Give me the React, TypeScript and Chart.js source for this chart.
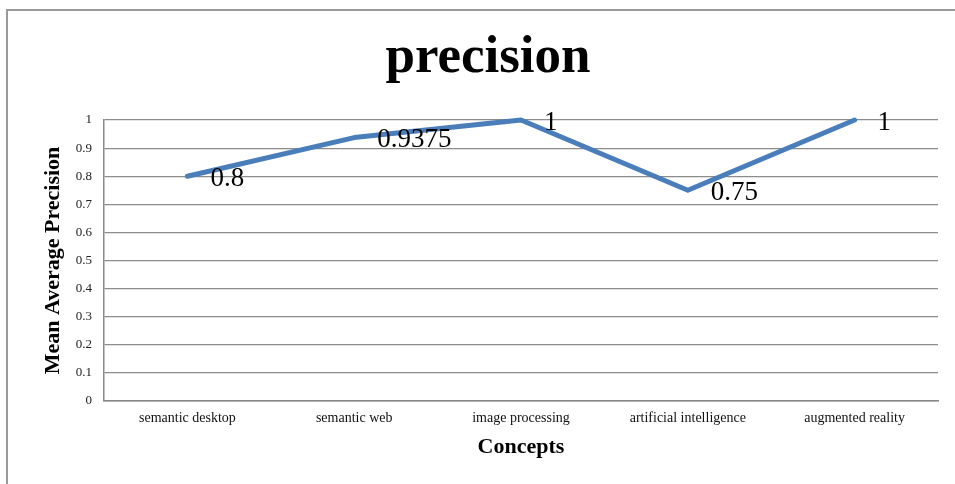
import React, { useEffect, useRef } from "react";
import { Chart, registerables } from "chart.js";

Chart.register(...registerables);

const categories = [
  "semantic desktop",
  "semantic web",
  "image processing",
  "artificial intelligence",
  "augmented reality",
];
const precisionValues = [0.8, 0.9375, 1, 0.75, 1];
const dataLabelTexts = ["0.8", "0.9375", "1", "0.75", "1"];
const yTickLabels = ["0", "0.1", "0.2", "0.3", "0.4", "0.5", "0.6", "0.7", "0.8", "0.9", "1"];

const SERIF = "'Liberation Serif', 'DejaVu Serif', serif";

const dataLabelPlugin = {
  id: "valueLabels",
  afterDatasetsDraw(chart: any) {
    const ctx = chart.ctx;
    const meta = chart.getDatasetMeta(0);
    ctx.save();
    ctx.font = `27px ${SERIF}`;
    ctx.fillStyle = "#000";
    ctx.textAlign = "left";
    ctx.textBaseline = "alphabetic";
    meta.data.forEach((pt: any, i: number) => {
      ctx.fillText(dataLabelTexts[i], pt.x + 23, pt.y + 9.5);
    });
    ctx.restore();
  },
};

export default function App() {
  const canvasRef = useRef<HTMLCanvasElement | null>(null);

  useEffect(() => {
    if (!canvasRef.current) return;
    const chart = new Chart(canvasRef.current, {
      type: "line",
      data: {
        labels: categories,
        datasets: [
          {
            label: "precision",
            data: precisionValues,
            borderColor: "#4a7ebb",
            backgroundColor: "#4a7ebb",
            borderWidth: 5,
            borderCapStyle: "round",
            borderJoinStyle: "round",
            pointRadius: 0,
            pointHoverRadius: 0,
            tension: 0,
            fill: false,
            clip: false,
          } as any,
        ],
      },
      options: {
        animation: false,
        responsive: true,
        maintainAspectRatio: false,
        events: [],
        layout: { padding: { left: 38, right: 17, top: 0, bottom: 0 } },
        plugins: {
          legend: { display: false },
          tooltip: { enabled: false },
          title: {
            display: true,
            text: "precision",
            color: "#000",
            font: { family: SERIF, size: 53, weight: "bold" },
            padding: { top: 27, bottom: 29.4 },
          },
        },
        scales: {
          x: {
            type: "category",
            offset: true,
            grid: { display: false, drawTicks: false },
            border: { display: true, color: "#888", width: 1.5 },
            ticks: {
              color: "#111",
              font: { family: SERIF, size: 14 },
              padding: 9,
              maxRotation: 0,
              autoSkip: false,
            },
            title: {
              display: true,
              text: "Concepts",
              color: "#000",
              font: { family: SERIF, size: 22, weight: "bold" },
              padding: { top: 0, bottom: 23 },
            },
            afterFit(scale: any) {
              scale.height = 83;
            },
          },
          y: {
            type: "linear",
            min: 0,
            max: 1,
            grid: { color: "#8c8c8c", lineWidth: 1.2, drawTicks: false },
            border: { display: true, color: "#888", width: 1.5 },
            ticks: {
              stepSize: 0.1,
              color: "#222",
              font: { family: SERIF, size: 13 },
              padding: 12,
              callback: (_v: any, i: number) => yTickLabels[i],
            },
            title: {
              display: true,
              text: "Mean Average Precision",
              color: "#000",
              font: { family: SERIF, size: 22, weight: "bold" },
              padding: { top: 2, bottom: 0 },
            },
            afterFit(scale: any) {
              scale.width = 66;
            },
          },
        },
      } as any,
      plugins: [dataLabelPlugin],
    });
    return () => chart.destroy();
  }, []);

  return (
    <div
      style={{
        position: "fixed",
        left: 0,
        top: 0,
        width: 955,
        height: 484,
        overflow: "hidden",
        background: "#fff",
      }}
    >
      <div
        style={{
          position: "absolute",
          left: 6,
          top: 9,
          width: 955 - 6 - 2,
          height: 484 - 9 - 2,
          borderTop: "2px solid #9a9a9a",
          borderLeft: "2px solid #9a9a9a",
        }}
      />
      <div style={{ position: "absolute", left: 0, top: 0, width: 955, height: 484 }}>
        <canvas ref={canvasRef} />
      </div>
    </div>
  );
}
